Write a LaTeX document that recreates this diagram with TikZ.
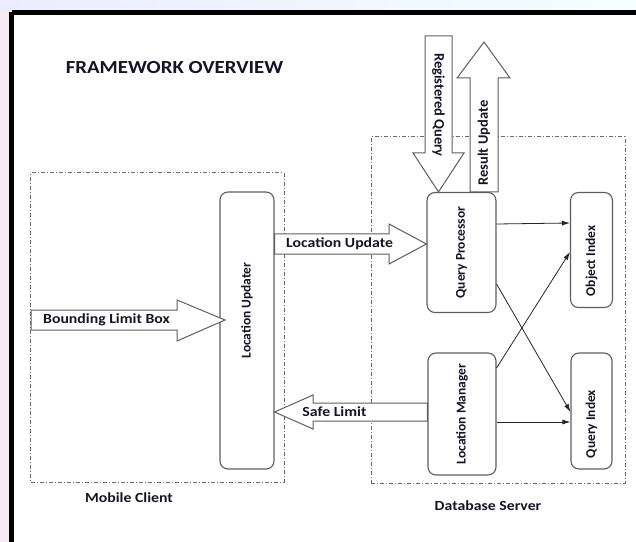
\documentclass[tikz,border=0pt]{standalone}
\usepackage{fontspec}
\setmainfont{Carlito}
\newfontfamily\widefont{Carlito}[FakeStretch=1.13]
\usetikzlibrary{arrows.meta}
\definecolor{boxgray}{HTML}{5E5E5E}
\definecolor{zonegray}{HTML}{6A6A6A}
\definecolor{inkblue}{HTML}{141428}
\begin{document}
\begin{tikzpicture}[x=1bp,y=-1bp,
  unit/.style={draw=boxgray, line width=1.1bp, rounded corners=8bp, fill=white,
    inner sep=0pt, text=inkblue, font=\bfseries\fontsize{13.5}{15}\selectfont},
  zone/.style={draw=zonegray, line width=1bp, dash pattern=on 4bp off 2bp on 1bp off 2bp,
    inner sep=0pt},
  flow/.style={draw=boxgray, line width=1bp, fill=white, line join=miter},
  link/.style={draw=black!85, line width=0.8bp, -{Latex[length=8bp,width=5bp]}},
  lbl/.style={text=inkblue, font=\widefont\bfseries\fontsize{14}{16}\selectfont, inner sep=0pt},
  vlbl/.style={text=inkblue, font=\bfseries\fontsize{14.5}{16}\selectfont, inner sep=0pt},
]
% page background and frame
\useasboundingbox (0,0) rectangle (636,542);
\fill[white] (0,0) rectangle (636,542);
\fill[left color=white!70!blue!25, right color=white!85!cyan!30] (0,0) rectangle (636,11);
\fill[white!92!violet] (0,11) rectangle (10,542);
\draw[black, line width=5bp] (11.5,12.5) -- (650,12.5);
\draw[black, line width=5bp] (11.5,12.5) -- (11.5,560);

% heading
\node[lbl, font=\widefont\bfseries\fontsize{18.5}{22}\selectfont] (title) at (174.5,68) {FRAMEWORK OVERVIEW};

% the two tiers
\node[zone, minimum width=253bp, minimum height=309bp] (client) at (157.5,327.5) {};
\node[zone, minimum width=254bp, minimum height=346bp] (server) at (498,310) {};
\node[lbl] (clientlbl) at (129,498) {Mobile Client};
\node[lbl] (serverlbl) at (488,506) {Database Server};

% components (rotated captions, some set off-centre)
\node[unit, minimum width=54bp, minimum height=277bp] (lu) at (247,330.5) {\rotatebox{90}{\hspace*{40bp}Location Updater}};
\node[unit, minimum width=69bp, minimum height=120bp] (qp) at (461.5,252.5) {\rotatebox{90}{Query Processor}};
\node[unit, minimum width=42bp, minimum height=115bp] (oi) at (591.5,250) {\rotatebox{90}{Object Index\hspace*{22bp}}};
\node[unit, minimum width=68bp, minimum height=122bp] (lm) at (462,414) {\rotatebox{90}{Location Manager}};
\node[unit, minimum width=41bp, minimum height=116bp] (qi) at (591.5,411) {\rotatebox{90}{Query Index\hspace*{26bp}}};

% block arrows
\draw[flow] (31,310) -- (177,310) -- (177,300) -- (225,320) -- (177,341) -- (177,330) -- (31,330) -- cycle;
\node[lbl, anchor=west, font=\widefont\bfseries\fontsize{14}{16}\selectfont] (blb) at (43,320) {Bounding Limit Box};

\draw[flow] (lu.east |- 0,234) -- (389,234) -- (389,224) -- (qp.west |- 0,244) -- (389,264) -- (389,254) -- (lu.east |- 0,254) -- cycle;
\node[lbl, anchor=west] (locupd) at (286,244) {Location Update};

\draw[flow] (lm.west |- 0,403) -- (313,403) -- (313,395) -- (lu.east |- 0,412) -- (313,429) -- (313,421) -- (lm.west |- 0,421) -- cycle;
\node[lbl] (safe) at (334.5,412) {Safe Limit};

\draw[flow] (425,36) -- (452,36) -- (452,153) -- (464,153) -- (qp.north -| 438.5,0) -- (413,153) -- (425,153) -- cycle;
\node[vlbl, rotate=-90] (regq) at (438.5,105) {Registered Query};

\draw[flow] (470,0 |- qp.north) -- (470,78) -- (457,78) -- (484,42) -- (510,78) -- (498,78) -- (498,0 |- qp.north) -- cycle;
\node[vlbl, rotate=90] (resupd) at (484,143) {Result Update};

% internal links
\draw[link] (qp.east |- 0,224) -- (oi.west |- 0,223);
\draw[link] (qp.east |- 0,284) -- (qi.west |- 0,412);
\draw[link] (lm.east |- 0,368) -- (oi.west |- 0,252);
\draw[link] (lm.east |- 0,422) -- (qi.west |- 0,422);
\end{tikzpicture}
\end{document}
